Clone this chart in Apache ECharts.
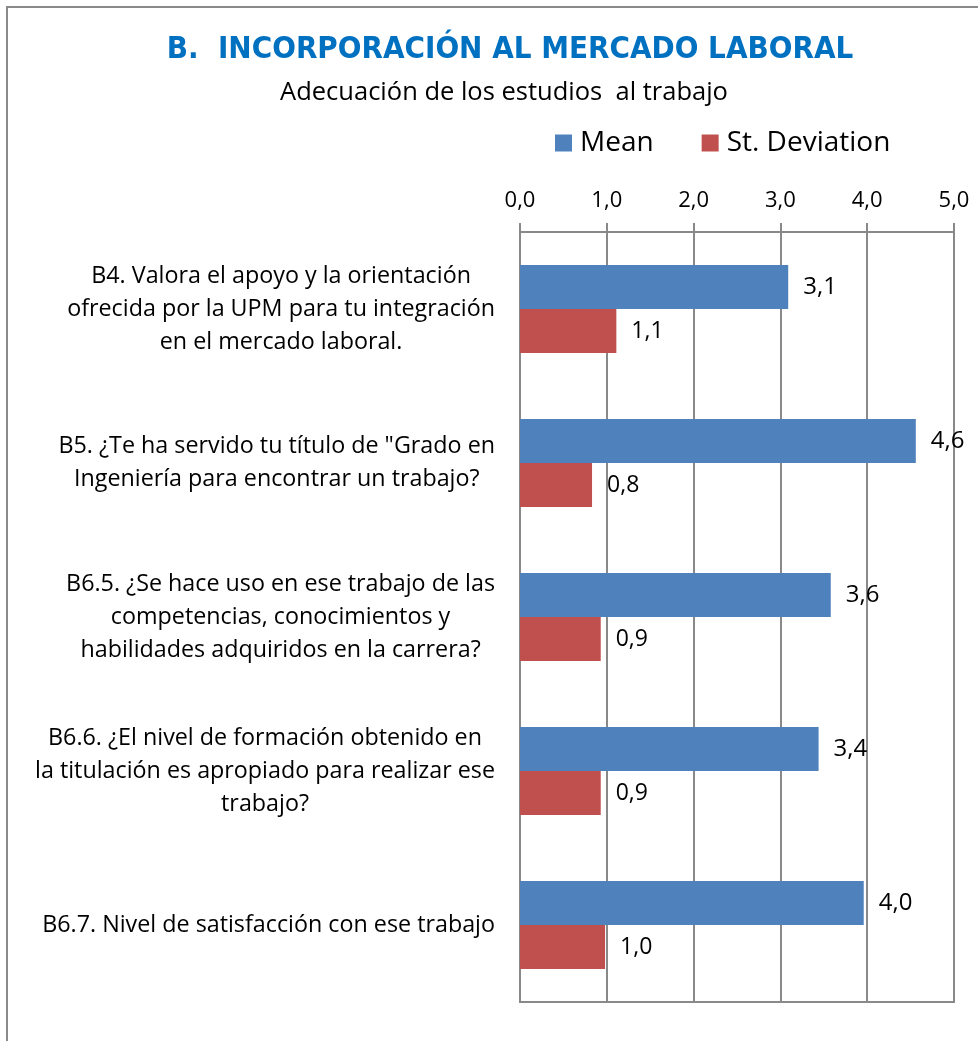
<!DOCTYPE html>
<html>
<head>
<meta charset="utf-8">
<script src="https://cdn.jsdelivr.net/npm/echarts@6/dist/echarts.min.js"></script>
<style>html,body{margin:0;padding:0;background:#fff;}#c{width:978px;height:1041px;}</style>
</head>
<body>
<div id="c"></div>
<script>
var categories = [
  "B4. Valora el apoyo y la orientación\nofrecida por la UPM para tu integración\nen el mercado laboral.",
  "B5. ¿Te ha servido tu título de \"Grado en\nIngeniería para encontrar un trabajo?",
  "B6.5. ¿Se hace uso en ese trabajo de las\ncompetencias, conocimientos y\nhabilidades adquiridos en la carrera?",
  "B6.6. ¿El nivel de formación obtenido en\nla titulación es apropiado para realizar ese\ntrabajo?",
  "B6.7. Nivel de satisfacción con ese trabajo"
];
var meanValues = [3.09, 4.56, 3.58, 3.44, 3.96];
var sdValues = [1.11, 0.83, 0.93, 0.93, 0.98];
var seriesNames = ["Mean", "St. Deviation"];
var titleText = "B.  INCORPORACIÓN AL MERCADO LABORAL";
var subtitleText = "Adecuación de los estudios  al trabajo";

var FONT = "'Open Sans', 'Liberation Sans', sans-serif";
function fmt(v){ return v.toFixed(1).replace('.', ','); }

var chart = echarts.init(document.getElementById('c'), null, {renderer:'canvas'});
var option = {
  backgroundColor: '#fff',
  animation: false,
  graphic: [{
    type: 'rect', z: -1,
    shape: {x: 7, y: 7, width: 1200, height: 1200},
    style: {fill: 'none', stroke: '#8a8a8a', lineWidth: 2}
  }],
  title: [{
    text: titleText, left: 505, top: 29, textAlign: 'center',
    textStyle: {fontFamily: "'DejaVu Sans Condensed', 'Open Sans', sans-serif", fontWeight: 'bold', fontSize: 31, color: '#0070C0'}
  }, {
    text: subtitleText, left: 499, top: 75, textAlign: 'center',
    textStyle: {fontFamily: FONT, fontWeight: 'normal', fontSize: 25.5, color: '#000'}
  }],
  legend: {
    left: 555, top: 129, padding: 0, icon: 'rect', itemWidth: 17, itemHeight: 17, itemGap: 48,
    textStyle: {fontFamily: FONT, fontSize: 28, color: '#000', padding: [0, 0, 0, 3]},
    data: seriesNames
  },
  grid: {
    left: 520, right: 24, top: 232, bottom: 39, containLabel: false,
    show: true, borderColor: '#898989', borderWidth: 2, backgroundColor: 'transparent'
  },
  xAxis: {
    type: 'value', position: 'top', min: 0, max: 5, interval: 1,
    axisLine: {show: true, lineStyle: {color: '#898989', width: 2}},
    axisTick: {show: true, length: 9, lineStyle: {color: '#898989', width: 2}},
    splitLine: {show: true, lineStyle: {color: '#898989', width: 2}},
    axisLabel: {margin: 20, fontFamily: FONT, fontSize: 22, color: '#000', formatter: function(v){ return fmt(v); }}
  },
  yAxis: {
    type: 'category', inverse: true, data: categories,
    axisLine: {show: true, lineStyle: {color: '#898989', width: 2}},
    axisTick: {show: false},
    axisLabel: {
      margin: 25, fontFamily: FONT, fontSize: 23.3, color: '#000', lineHeight: 33, align: 'right',
      formatter: function(v){ return v.split('\n').map(function(s){ return '{c|' + s + '}'; }).join('\n'); },
      rich: {c: {align: 'center', fontFamily: FONT, fontSize: 23.3, lineHeight: 33, color: '#000'}}
    }
  },
  series: [{
    name: seriesNames[0], type: 'bar', data: meanValues, barWidth: 44, barGap: '0%', barCategoryGap: '43%',
    itemStyle: {color: '#4F81BD'},
    label: {show: true, position: 'right', distance: 15, fontFamily: FONT, fontSize: 24, color: '#000', formatter: function(p){ return fmt(p.value); }}
  }, {
    name: seriesNames[1], type: 'bar', data: sdValues, barWidth: 44, barGap: '0%',
    itemStyle: {color: '#C0504D'},
    label: {show: true, position: 'right', distance: 15, fontFamily: FONT, fontSize: 23, color: '#000', formatter: function(p){ return fmt(p.value); }}
  }]
};
chart.setOption(option);
</script>
</body>
</html>
